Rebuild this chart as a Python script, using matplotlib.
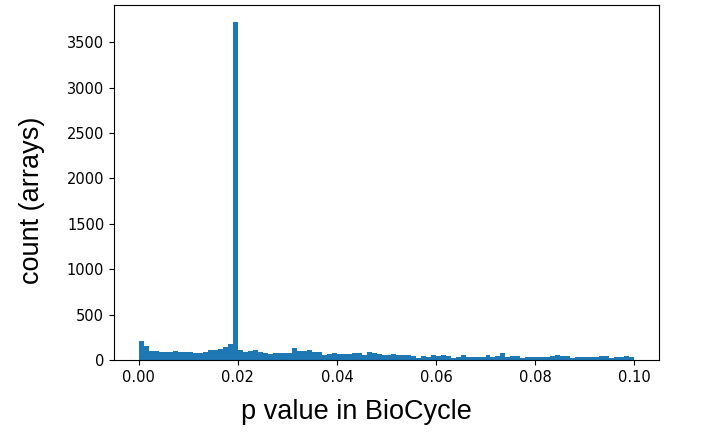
import numpy as np
import matplotlib
matplotlib.use("Agg")
import matplotlib.pyplot as plt

# counts per 0.001-wide bin of p value
counts_a = [205, 150, 105, 95, 90, 88, 85, 97, 92, 88, 86, 80, 82, 90, 108, 106, 120, 142, 172, 3725]
counts_b = [110, 90, 96, 106, 88, 78, 68, 77, 74, 77, 74, 130, 96]
counts_c = [96, 106, 85, 92, 58, 66, 81, 66, 66, 66, 74, 81, 50, 90, 80, 62, 58]
counts_d = [55, 66, 55, 55, 50, 42, 25, 48, 38, 60, 46, 52, 40, 25, 35, 52, 35]
counts_e = [28, 33, 35, 55, 28, 48, 77, 28, 40, 40, 22, 30, 30, 30, 30, 30, 48]
counts_f = [55, 40, 40, 24, 30, 30, 37, 30, 30, 44, 44, 26, 30, 30, 48, 30]

counts = np.array(counts_a + counts_b + counts_c + counts_d + counts_e + counts_f)
edges = np.linspace(0, 0.1, len(counts) + 1)
centers = (edges[:-1] + edges[1:]) / 2

fig = plt.figure(figsize=(7.01, 4.38), dpi=100)
ax = fig.add_axes([0.1626, 0.178, 0.940 - 0.1626, 0.9886 - 0.178])
ax.hist(centers, bins=edges, weights=counts, color='#1f77b4')
ax.set_xlabel('p value in BioCycle', fontsize=19.5, family='Liberation Sans')
ax.set_ylabel('count (arrays)', fontsize=19.5, family='Liberation Sans')
# labels sit a bit off-centre in the original
ax.xaxis.set_label_coords(0.444, -0.11)
ax.yaxis.set_label_coords(-0.127, 0.45)
ax.tick_params(labelsize=10.5)
fig.savefig('out.png', dpi=100)
